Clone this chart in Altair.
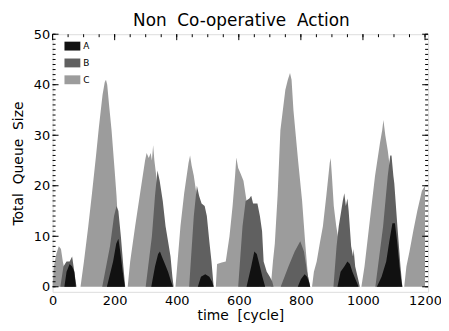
import altair as alt
import pandas as pd

# ---- text ----
title_text = "Non \u00a0Co-operative \u00a0Action"
x_title = "time \u00a0[cycle]"
y_title = "Total \u00a0Queue \u00a0Size"

# ---- series ----
series_names = ["A", "B", "C"]
series_colors = ["#111111", "#606060", "#9c9c9c"]

c_time = [0, 4, 12, 20, 27, 33, 40, 50, 60, 66,
          90, 101, 115, 127, 140, 149, 161, 168, 172, 176, 182, 190, 200, 206, 214, 222,
          242, 250, 266, 282, 298, 303, 310, 316, 320, 324, 328, 334, 345, 358, 368,
          396, 400, 412, 424, 438, 443, 448, 455, 462, 472, 485, 495,
          526, 530, 545, 558, 570, 580, 588, 592, 598, 606, 615, 625, 640, 655, 665,
          703, 710, 716, 725, 734, 750, 758, 765, 770, 776, 791, 804, 814, 823, 830,
          836, 842, 851, 861, 871, 882, 893, 896, 900, 906, 914, 922, 930, 938,
          995, 1005, 1020, 1039, 1055, 1062, 1066, 1072, 1080, 1086, 1095, 1105, 1112,
          1133, 1140, 1150, 1162, 1175, 1190, 1200]
c_size = [0, 4, 6.5, 8, 7.5, 5, 3, 2, 1, 0,
          0, 5, 12, 18.5, 26, 31.5, 38, 40.5, 41, 40, 36, 31, 23, 18, 9, 0,
          0, 5, 12, 18.5, 25, 26.5, 25.5, 26.5, 25, 28, 25, 22, 14, 6, 0,
          0, 3, 12, 18.5, 24.5, 26, 24, 22, 19, 13, 6, 0,
          0, 4.5, 4.8, 5, 10, 16, 22, 25.6, 23.5, 22.4, 21, 17, 10, 3, 0,
          0, 5, 8.5, 18, 31, 39, 41, 42.3, 41, 35, 25, 17, 8.6, 2, 0,
          0, 3, 5, 8.6, 12, 18, 24.5, 25.5, 22, 16, 12, 9, 4, 0,
          0, 4, 12, 22, 28.5, 31, 33, 30, 27, 24, 15, 6, 0,
          0, 4, 7, 11, 15, 19, 20]

b_time = [0, 25, 35, 45, 55, 63, 70, 77,
          160, 185, 198, 206, 212, 220, 228, 234,
          300, 320, 330, 338, 345, 355, 364, 372, 380, 386, 390,
          440, 455, 465, 472, 480, 490, 497, 505, 512, 519,
          598, 612, 622, 634, 640, 646, 660, 668, 675, 680, 690, 700, 708, 712,
          735, 760, 780, 798, 810, 820, 830,
          905, 915, 922, 930, 935, 940, 945, 950, 954, 962, 968, 970, 975, 985, 990,
          1040, 1065, 1080, 1088, 1092, 1098, 1101, 1111, 1121, 1127,
          1200]
b_size = [0, 0, 4, 5, 5, 6, 3, 0,
          0, 8, 14, 16, 15, 10, 4, 0,
          0, 10, 18, 23, 21, 17, 12, 9, 6, 2, 0,
          0, 14, 20, 18, 16.5, 16, 14, 9, 5, 0,
          0, 12, 17, 17.5, 18, 16.5, 16.5, 14, 11, 5, 3, 2, 1, 0,
          0, 4, 7, 9, 7, 3, 0,
          0, 8, 12, 15, 17, 18.5, 16, 17.5, 15, 8, 6, 7.5, 4, 1.4, 0,
          0, 12, 22, 26, 26, 22, 20.5, 12, 4, 0,
          0]

a_time = [0, 38, 45, 55, 63, 70, 75,
          175, 195, 205, 212, 218, 226, 233,
          318, 330, 340, 346, 352, 362, 372, 382, 388,
          468, 478, 492, 505, 514, 519,
          625, 640, 650, 658, 668, 676, 685,
          790, 800, 812, 820, 826, 830,
          918, 928, 940, 950, 958, 966, 976, 986,
          1045, 1060, 1075, 1085, 1095, 1103, 1110, 1118, 1124, 1127,
          1200]
a_size = [0, 0, 3, 4.5, 4, 3, 0,
          0, 5, 8.5, 9.5, 7, 3, 0,
          0, 4, 6.5, 7, 6, 4.5, 3, 1, 0,
          0, 2, 2.5, 2, 1, 0,
          0, 4, 7, 6.5, 4, 2, 0,
          0, 1.5, 2.5, 2, 1, 0,
          0, 3, 4, 5, 4.5, 3, 1.5, 0,
          0, 2, 5, 9, 12.6, 12.6, 9, 4, 1, 0,
          0]

# ---- axis ticks ----
x_labels = [0, 200, 400, 600, 800, 1000, 1200]
x_minor = list(range(0, 1201, 50))
y_labels = [0, 10, 20, 30, 40, 50]
y_minor = list(range(0, 51, 1))

W, H = 379, 260
FONT = "DejaVu Sans"

xs = alt.Scale(domain=[0, 1210], nice=False, zero=False)
ys = alt.Scale(domain=[-1, 50], nice=False, zero=False)
cs = alt.Scale(domain=series_names, range=series_colors)

xaxis = alt.Axis(values=x_labels, format="d", ticks=False, tickSize=0, domain=False, grid=False,
                 labelFont=FONT, labelFontSize=13, labelPadding=3, labelColor="black",
                 labelFlush=False, title=x_title, titleFont=FONT, titleFontSize=14,
                 titleFontWeight="normal", titlePadding=1, titleColor="black")
yaxis = alt.Axis(values=y_labels, format="d", ticks=False, tickSize=0, domain=False, grid=False,
                 labelFont=FONT, labelFontSize=13, labelPadding=3, labelColor="black",
                 title=y_title, titleFont=FONT, titleFontSize=14, titleFontWeight="normal",
                 titlePadding=8, titleColor="black")
legend = alt.Legend(title=None, orient="none", legendX=12, legendY=4,
                    symbolType="M-1,-0.56H1V0.56H-1Z", symbolSize=256, symbolStrokeWidth=0,
                    symbolOpacity=1, labelFont=FONT, labelFontSize=9, labelColor="black",
                    labelOffset=3, rowPadding=4, padding=0)


def area(name, t, v):
    df = pd.DataFrame({"time": t, "size": v, "series": name})
    return alt.Chart(df).mark_area(interpolate="linear", opacity=1, strokeWidth=0).encode(
        x=alt.X("time:Q", scale=xs, axis=xaxis),
        y=alt.Y("size:Q", scale=ys, axis=yaxis),
        y2=alt.value(H),
        color=alt.Color("series:N", scale=cs, legend=legend),
    )


def yticks(vals, length, right=False):
    df = pd.DataFrame({"size": vals})
    x1 = W - length if right else 0
    x2 = W if right else length
    return alt.Chart(df).mark_rule(color="black", strokeWidth=1).encode(
        y=alt.Y("size:Q", scale=ys, axis=yaxis), x=alt.value(x1), x2=alt.value(x2))


def xticks(vals, length):
    df = pd.DataFrame({"time": vals})
    return alt.Chart(df).mark_rule(color="black", strokeWidth=1).encode(
        x=alt.X("time:Q", scale=xs, axis=xaxis), y=alt.value(0), y2=alt.value(length))


title_layer = alt.Chart(pd.DataFrame({"t": [title_text]})).mark_text(
    font=FONT, fontSize=17, color="black", align="center", baseline="alphabetic"
).encode(text="t:N", x=alt.value(W / 2 + 1), y=alt.value(-8))

chart = alt.layer(
    area("C", c_time, c_size),
    area("B", b_time, b_size),
    area("A", a_time, a_size),
    yticks(y_minor, 3), yticks(y_labels, 6),
    yticks(y_minor, 3, right=True), yticks(y_labels, 6, right=True),
    xticks(x_minor, 3), xticks(x_labels, 6),
    title_layer,
).properties(
    width=W, height=H,
    padding={"left": 45, "top": 25, "right": 13, "bottom": 30},
    autosize=alt.AutoSizeParams(type="none"),
).configure_view(stroke="black", strokeWidth=1).configure(background="white")

chart.save("out.html", embed_options={"renderer": "svg", "actions": False})
